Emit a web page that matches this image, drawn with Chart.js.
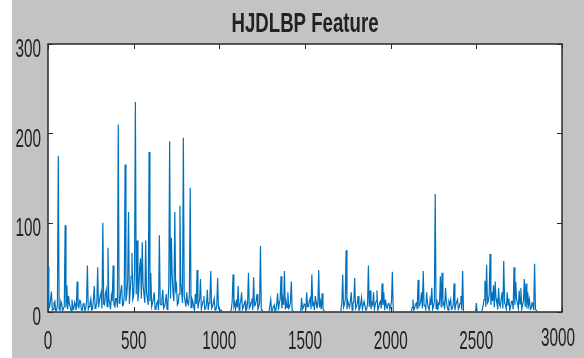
<!DOCTYPE html>
<html>
<head>
<meta charset="utf-8">
<title>HJDLBP Feature</title>
<script src="https://cdn.jsdelivr.net/npm/chart.js@4.4.1/dist/chart.umd.min.js"></script>
<style>
    body { margin: 0; background: #ffffff; }
    #wrap { width: 584px; height: 358px; }
</style>
</head>
<body>
<div id="wrap"><canvas id="featureChart" width="584" height="358"></canvas></div>
<script>
// values, one every 5 samples
var sampleStep = 5;
var titleText = "HJDLBP Feature";
var xTicks = [0, 500, 1000, 1500, 2000, 2500, 3000];
var yTicks = [0, 100, 200, 300];

var featureValues = [
    51, 4, 6, 14, 23, 2, 3, 10, 12, 1, 2, 8, 175, 3, 2, 12, 9, 1, 4, 6,
    97, 5, 30, 3, 18, 9, 6, 1, 14, 4, 3, 11, 8, 2, 34, 7, 5, 13, 12, 2,
    2, 9, 10, 1, 4, 12, 52, 3, 6, 10, 15, 2, 3, 14, 29, 4, 6, 11, 50, 5,
    12, 18, 22, 4, 100, 9, 8, 20, 25, 6, 72, 14, 10, 3, 18, 12, 52, 8, 6, 15,
    15, 5, 210, 10, 12, 24, 30, 7, 8, 18, 165, 12, 20, 35, 112, 9, 25, 40, 66, 14,
    18, 45, 235, 20, 80, 12, 25, 50, 60, 15, 78, 30, 30, 10, 80, 22, 15, 8, 179, 12,
    44, 6, 10, 15, 22, 3, 4, 10, 12, 2, 86, 9, 8, 14, 25, 4, 6, 11, 20, 3,
    10, 30, 191, 15, 83, 40, 20, 12, 112, 25, 30, 8, 10, 20, 119, 35, 22, 10, 195, 18,
    12, 6, 22, 10, 8, 18, 139, 5, 15, 12, 6, 2, 20, 9, 47, 4, 10, 14, 37, 3,
    8, 12, 18, 3, 4, 9, 25, 2, 10, 15, 46, 4, 6, 10, 15, 2, 3, 7, 38, 4,
    5, 1, 2, 0, 0, 0, 0, 0, 0, 0, 0, 0, 0, 0, 3, 12, 42, 6, 10, 3,
    14, 5, 29, 2, 8, 12, 22, 3, 5, 9, 12, 1, 3, 10, 44, 4, 6, 11, 15, 2,
    39, 7, 8, 13, 20, 3, 6, 10, 74, 2, 2, 0, 0, 0, 0, 0, 0, 0, 0, 0,
    14, 1, 2, 6, 8, 1, 3, 9, 21, 2, 10, 14, 40, 4, 15, 8, 46, 3, 12, 5,
    22, 4, 6, 11, 34, 2, 1, 0, 0, 0, 0, 0, 0, 0, 0, 0, 16, 3, 5, 9,
    8, 2, 22, 6, 6, 12, 15, 3, 42, 8, 10, 2, 18, 11, 4, 9, 47, 5, 12, 3,
    21, 4, 2, 0, 0, 0, 0, 0, 0, 0, 0, 0, 0, 0, 0, 0, 0, 0, 0, 0,
    0, 0, 3, 10, 42, 5, 8, 14, 69, 3, 12, 8, 5, 13, 22, 2, 10, 11, 38, 4,
    6, 10, 18, 2, 4, 9, 16, 3, 8, 12, 12, 2, 3, 9, 52, 6, 24, 3, 10, 8,
    22, 3, 8, 12, 24, 2, 5, 10, 12, 4, 32, 8, 22, 2, 14, 6, 4, 9, 10, 3,
    6, 12, 45, 2, 0, 0, 0, 0, 0, 0, 0, 0, 0, 0, 0, 0, 0, 0, 0, 0,
    0, 0, 0, 0, 0, 5, 14, 2, 4, 9, 10, 3, 36, 6, 8, 12, 22, 4, 46, 7,
    8, 3, 22, 10, 5, 2, 14, 8, 27, 3, 6, 12, 132, 4, 14, 2, 10, 9, 40, 5,
    44, 8, 10, 3, 27, 12, 6, 2, 12, 9, 14, 3, 4, 8, 32, 2, 8, 11, 14, 3,
    5, 10, 18, 2, 46, 1, 0, 0, 0, 0, 0, 0, 0, 0, 0, 0, 0, 0, 0, 0,
    10, 0, 0, 0, 0, 0, 0, 3, 8, 14, 35, 6, 53, 10, 12, 20, 65, 8, 22, 12,
    30, 5, 34, 15, 10, 3, 27, 9, 6, 14, 22, 4, 57, 10, 8, 3, 22, 8, 15, 2,
    6, 12, 12, 3, 50, 8, 34, 14, 10, 4, 24, 9, 27, 3, 8, 12, 37, 6, 32, 4,
    22, 8, 14, 3, 4, 10, 8, 2, 54, 3, 2, 0, 0, 0, 0, 0, 0, 0, 0, 0
];

var points = featureValues.map(function(v, i) {
    return {x: i * sampleStep, y: v};
});

// stretched text, the source picture was squashed sideways
function drawText(ctx, text, x, y, align, font, sx, sy) {
    ctx.save();
    ctx.translate(x, y);
    ctx.scale(sx, sy);
    ctx.font = font;
    ctx.textAlign = align;
    ctx.textBaseline = "alphabetic";
    ctx.fillStyle = "#222222";
    ctx.fillText(text, 0, 0);
    ctx.restore();
}

var matlabAxes = {
    id: "matlabAxes",
    beforeDraw: function(chart) {
        var ctx = chart.ctx, a = chart.chartArea;
        ctx.save();
        ctx.fillStyle = "#ffffff";
        ctx.fillRect(0, 0, chart.width, chart.height);
        ctx.fillStyle = "#c3c3c3";
        ctx.fillRect(12, 0, chart.width - 12, chart.height);
        ctx.fillStyle = "#ffffff";
        ctx.fillRect(a.left, a.top, a.right - a.left, a.bottom - a.top);
        ctx.restore();
    },
    // box goes under the line, so the zero stretches show blue
    beforeDatasetsDraw: function(chart) {
        var ctx = chart.ctx, a = chart.chartArea;
        var xs = chart.scales.x, ys = chart.scales.y;
        var tick = 5;

        ctx.save();
        ctx.strokeStyle = "#2a2a2a";
        ctx.lineWidth = 1.5;
        ctx.strokeRect(a.left, a.top, a.right - a.left, a.bottom - a.top);

        ctx.lineWidth = 1;
        ctx.beginPath();
        xTicks.forEach(function(t) {
            var px = Math.round(xs.getPixelForValue(t)) + 0.5;
            ctx.moveTo(px, a.bottom); ctx.lineTo(px, a.bottom - tick);
            ctx.moveTo(px, a.top); ctx.lineTo(px, a.top + tick);
        });
        yTicks.forEach(function(t) {
            var py = Math.round(ys.getPixelForValue(t)) + 0.5;
            ctx.moveTo(a.left, py); ctx.lineTo(a.left + tick, py);
            ctx.moveTo(a.right, py); ctx.lineTo(a.right - tick, py);
        });
        ctx.stroke();
        ctx.restore();
    },
    afterDatasetsDraw: function(chart) {
        var ctx = chart.ctx, a = chart.chartArea;
        var xs = chart.scales.x, ys = chart.scales.y;

        var labelFont = "18px 'Liberation Sans', Arial, sans-serif";
        xTicks.forEach(function(t, i) {
            var px = xs.getPixelForValue(t);
            var by = 349;
            if (i == xTicks.length - 1) { px -= 4; by = 346; }
            drawText(ctx, String(t), px, by, "center", labelFont, 0.85, 1.47);
        });
        yTicks.forEach(function(t) {
            var py = ys.getPixelForValue(t);
            drawText(ctx, String(t), 41, py + 13.3, "right", labelFont, 0.85, 1.47);
        });

        drawText(ctx, titleText, (a.left + a.right) / 2, 32, "center",
            "bold 22px 'Liberation Sans', Arial, sans-serif", 0.847, 1.27);
    }
};

var featureChart = new Chart(document.getElementById("featureChart").getContext("2d"), {
    type: "line",
    data: {
        datasets: [{
            label: titleText,
            data: points,
            borderColor: "#0072BD",
            borderWidth: 1.2,
            pointRadius: 0,
            tension: 0,
            fill: false
        }]
    },
    options: {
        responsive: false,
        animation: false,
        devicePixelRatio: 1,
        layout: {
            padding: {left: 48, right: 22, top: 44, bottom: 46}
        },
        plugins: {
            legend: {display: false},
            tooltip: {enabled: false}
        },
        scales: {
            x: {type: "linear", min: 0, max: 3000, display: false},
            y: {min: 0, max: 300, display: false}
        }
    },
    plugins: [matlabAxes]
});
</script>
</body>
</html>
